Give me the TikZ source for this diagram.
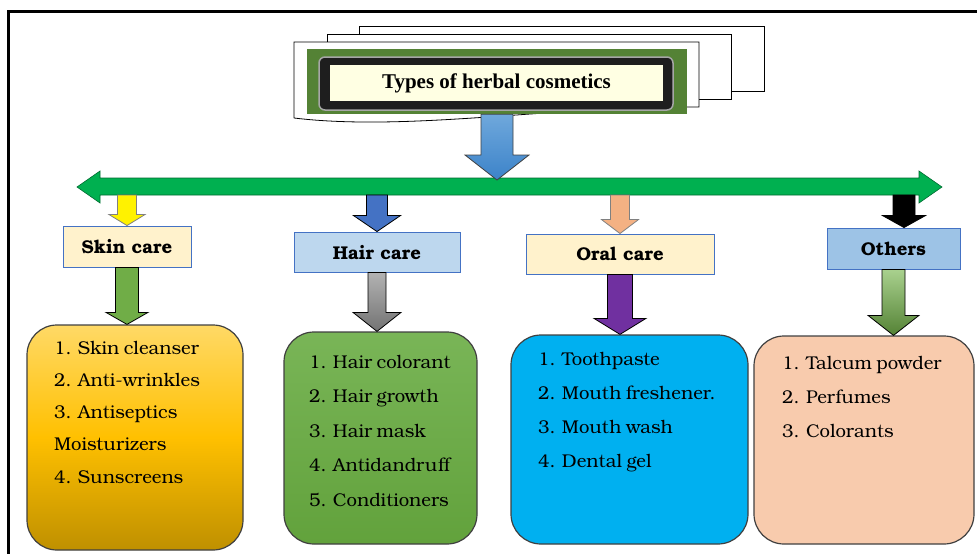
\documentclass[tikz,border=0pt]{standalone}
\usepackage{fontspec}
\setmainfont{Liberation Serif}
\newfontfamily\bonum{texgyrebonum}[Extension=.otf, UprightFont=*-regular, BoldFont=*-bold]
\usetikzlibrary{calc, positioning}

\definecolor{bargreen}{HTML}{00B050}
\definecolor{titlegreen}{HTML}{548235}
\definecolor{titleyellow}{HTML}{FFFFE3}
\definecolor{darkframe}{HTML}{1E1E1E}
\definecolor{boxblue}{HTML}{4472C4}
\definecolor{creamfill}{HTML}{FFF2CC}
\definecolor{hairfill}{HTML}{BDD7EE}
\definecolor{othfill}{HTML}{9DC3E6}
\definecolor{listedge}{HTML}{404040}
\definecolor{goldtop}{HTML}{FFD966}
\definecolor{goldmid}{HTML}{FFC000}
\definecolor{goldbot}{HTML}{BF9000}
\definecolor{hairtop}{HTML}{79B557}
\definecolor{hairbot}{HTML}{62A23C}
\definecolor{oralfill}{HTML}{00B0F0}
\definecolor{peach}{HTML}{F8CBAD}
\definecolor{skinarrow}{HTML}{70AD47}
\definecolor{hairarrow}{HTML}{4472C4}
\definecolor{salmon}{HTML}{F4B183}
\definecolor{oralarrow}{HTML}{7030A0}
\definecolor{topblue}{HTML}{6FA8DC}
\definecolor{botblue}{HTML}{3C83C9}
\definecolor{lightgreen}{HTML}{A9D18E}

\tikzset{
  shaft/.store in=\shafthw, shaft=10,
  head/.store in=\headhw, head=20,
  tiplen/.store in=\tiplen, tiplen=14,
  block/.style={draw=black, line width=0.8pt, line join=miter,
    to path={let \p1=(\tikztostart), \p2=(\tikztotarget) in
      ({\x1-\shafthw pt},\y1) -- ({\x1-\shafthw pt},{\y2+\tiplen pt})
      -- ({\x1-\headhw pt},{\y2+\tiplen pt}) -- (\x1,\y2)
      -- ({\x1+\headhw pt},{\y2+\tiplen pt}) -- ({\x1+\shafthw pt},{\y2+\tiplen pt})
      -- ({\x1+\shafthw pt},\y1) -- cycle}},
  catbox/.style={draw=boxblue, line width=0.9pt, inner sep=0pt,
    font=\bonum\bfseries\fontsize{18.5}{21}\selectfont},
  listbox/.style={draw=listedge, line width=1.2pt, rounded corners=30pt, inner sep=0pt},
  item/.style={anchor=base west, inner sep=0pt,
    font=\bonum\fontsize{18.5}{22}\selectfont,
    execute at begin node={\spaceskip=0.24em plus 0.1em\relax}}
}

\begin{document}
\begin{tikzpicture}[x=1pt, y=-1pt]
\useasboundingbox (0,0) rectangle (977,554);

% frame
\draw[line width=3pt] (977,11) -- (8,11) -- (8,554);

% stacked pages behind the title
\draw[fill=white, line width=0.8pt] (359,26) rectangle (764,91);
\draw[fill=white, line width=0.8pt] (327,34) rectangle (731,99);
\draw[fill=white, line width=0.8pt] (294,118) -- (294,42) -- (699,42) -- (699,107)
  .. controls (560,105) and (410,132) .. (294,118);

% title
\node[fill=titlegreen, minimum width=380pt, minimum height=65pt, inner sep=0pt] (titlebg) at (497,81.5) {};
\node[fill=darkframe, draw=gray!70, line width=1.5pt, rounded corners=6pt,
      minimum width=354pt, minimum height=53pt, inner sep=0pt] (titleframe) at (496,83.5) {};
\node[fill=titleyellow, minimum width=333pt, minimum height=36pt, inner sep=0pt,
      font=\bfseries\fontsize{21}{24}\selectfont] (title) at (496.5,83) {Types of herbal cosmetics};

% double arrow bar
\draw[fill=bargreen, draw=bargreen!60!black, line width=0.6pt]
  (77,187) -- (100,171) -- (100,178) -- (919,178) -- (919,171) -- (942,187)
  -- (919,203) -- (919,195) -- (100,195) -- (100,203) -- cycle;
\coordinate (barbot) at (0,195);
\coordinate (bartop) at (0,180);
\coordinate (othbar) at (904,195);

\draw[block, draw=black!75, top color=topblue, bottom color=botblue, shaft=16, head=32, tiplen=25]
  (titlebg.south) to (titlebg.south |- bartop);

% categories
\node[catbox, fill=creamfill, minimum width=128pt, minimum height=41pt] (skin) at (127,246.5) {Skin care};
\node[catbox, fill=hairfill, minimum width=166pt, minimum height=40pt] (hair) at (377,252) {Hair care};
\node[catbox, fill=creamfill, minimum width=188pt, minimum height=40pt] (oral) at (620,254) {Oral care};
\node[catbox, fill=othfill, minimum width=133pt, minimum height=41pt] (others) at (893.5,248.5) {Others};

% lists
\node[listbox, top color=goldtop, bottom color=goldbot, middle color=goldmid,
      minimum width=216pt, minimum height=225pt] (skinlist) at (135,437.5) {};
\node[listbox, top color=hairtop, bottom color=hairbot,
      minimum width=193pt, minimum height=212pt] (hairlist) at (380.5,438) {};
\node[listbox, fill=oralfill, minimum width=237pt, minimum height=209pt] (orallist) at (629.5,439.5) {};
\node[listbox, fill=peach, minimum width=220pt, minimum height=208pt] (otherlist) at (864,440) {};

\foreach \t [count=\i] in {1. Skin cleanser, 2. Anti-wrinkles, 3. Antiseptics, Moisturizers, 4. Sunscreens}
  \node[item] (skinitem\i) at (54,{354+32.3*(\i-1)}) {\t};
\foreach \t [count=\i] in {1. Hair colorant, 2. Hair growth, 3. Hair mask, 4. Antidandruff, 5. Conditioners}
  \node[item] (hairitem\i) at (309,{368+34.5*(\i-1)}) {\t};
\foreach \t [count=\i] in {1. Toothpaste, 2. Mouth freshener., 3. Mouth wash, 4. Dental gel}
  \node[item] (oralitem\i) at (538,{365+34.3*(\i-1)}) {\t};
\foreach \t [count=\i] in {1. Talcum powder, 2. Perfumes, 3. Colorants}
  \node[item] (othitem\i) at (782,{369+34*(\i-1)}) {\t};

% arrows
\draw[block, fill=yellow, draw=gray, shaft=9.5, head=18, tiplen=11] (skin.north |- barbot) to (skin.north);
\draw[block, fill=hairarrow, shaft=10.5, head=23.5, tiplen=16] (hair.north |- barbot) to (hair.north);
\draw[block, fill=salmon, draw=gray, shaft=9.5, head=18.5, tiplen=14] (oral.north |- barbot) to (oral.north);
\draw[block, fill=black, shaft=11, head=21.5, tiplen=12] (othbar) to (others.north);

\draw[block, fill=skinarrow, shaft=11.5, head=21, tiplen=12] (skin.south) to (skinlist.north);
\draw[block, top color=gray!60, bottom color=gray!90!black, shaft=9, head=24, tiplen=19] (hair.south) to (hairlist.north);
\draw[block, fill=oralarrow, shaft=12.5, head=26, tiplen=16] (oral.south) to (orallist.north);
\draw[block, top color=lightgreen, bottom color=titlegreen, shaft=11.5, head=25.5, tiplen=20]
  (others.south) to (otherlist.north);
\end{tikzpicture}
\end{document}
